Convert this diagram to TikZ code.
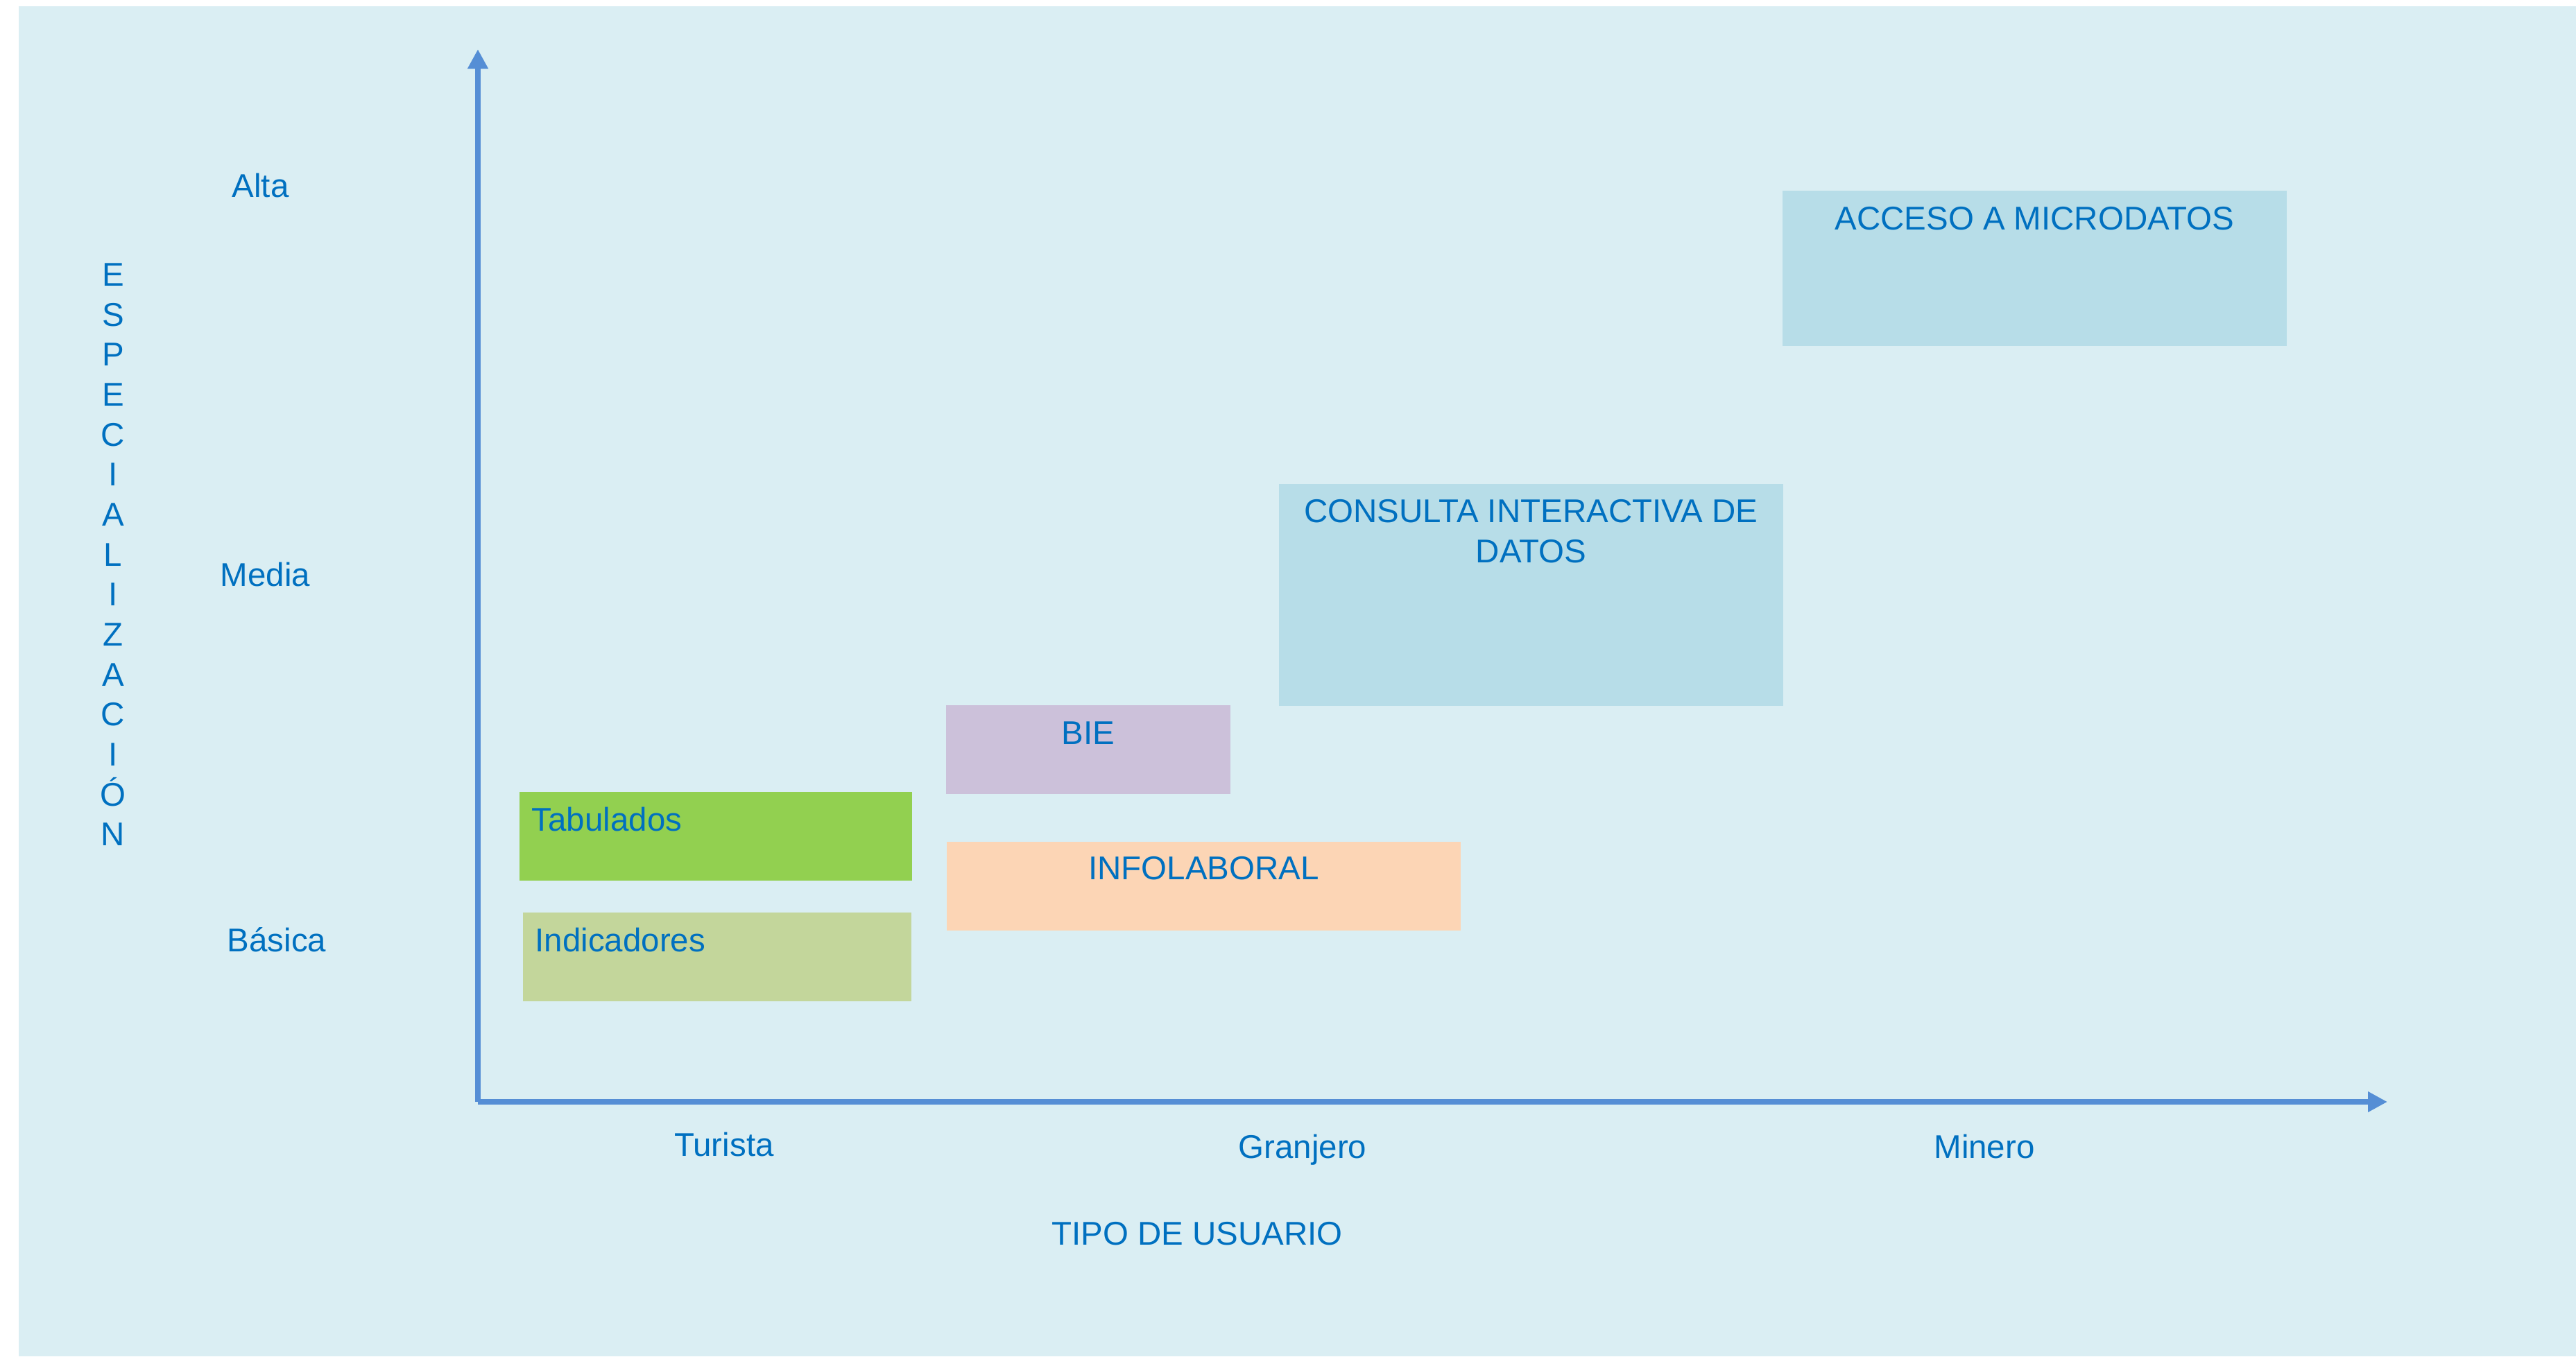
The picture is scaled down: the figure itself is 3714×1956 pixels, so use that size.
\documentclass[tikz,border=0pt]{standalone}
\usepackage{fontspec}
\setmainfont{Liberation Sans}
\usetikzlibrary{arrows.meta}

\definecolor{fondo}{HTML}{DAEEF3}
\definecolor{ejes}{HTML}{558ED5}
\definecolor{azul}{HTML}{0070C0}
\definecolor{verde}{HTML}{92D050}
\definecolor{olivo}{HTML}{C3D69B}
\definecolor{lila}{HTML}{CCC1DA}
\definecolor{durazno}{HTML}{FCD5B5}
\definecolor{celeste}{HTML}{B7DDE8}

\begin{document}
\begin{tikzpicture}[x=0.01cm, y=-0.01cm, >={Triangle[length=2.8mm, width=2.8mm]}]

\tikzstyle{bloque} = [rectangle, inner sep=0pt, anchor=north west, minimum height=1.28cm]
\tikzstyle{texto} = [inner sep=0pt, text=azul, font=\fontsize{13.5}{16.4}\selectfont]
\tikzstyle{eje} = [draw=ejes, line width=2.4pt]

\useasboundingbox (0,0) rectangle (3714,1956);
\fill[fondo] (27,9) rectangle (3714,1956);

% ejes
\coordinate (origen) at (689,1589);
\coordinate (ytope) at (689,71);
\coordinate (xfin) at (3442,1589);
\draw[eje, ->] (origen) -- (ytope);
\draw[eje, ->] (origen) -- (xfin);

% bloques
\node[bloque, fill=verde, minimum width=5.66cm] (tab) at (748,1141) {};
\node[bloque, fill=olivo, minimum width=5.60cm] (ind) at (753,1315) {};
\node[bloque, fill=lila, minimum width=4.10cm] (bie) at (1363,1016) {};
\node[bloque, fill=durazno, minimum width=7.41cm] (info) at (1364,1213) {};
\node[bloque, fill=celeste, minimum width=7.27cm, minimum height=3.20cm] (consulta) at (1843,697) {};
\node[bloque, fill=celeste, minimum width=7.27cm, minimum height=2.24cm] (acceso) at (2569,274) {};

\node[texto, anchor=base west] (tabtxt) at ([shift={(18,57)}]tab.north west) {Tabulados};
\node[texto, anchor=base west] (indtxt) at ([shift={(18,57)}]ind.north west) {Indicadores};
\node[texto, anchor=base] (bietxt) at ([shift={(0,57)}]bie.north) {BIE};
\node[texto, anchor=base] (infotxt) at ([shift={(0,55)}]info.north) {INFOLABORAL};
\node[texto, anchor=north, align=center] (consultatxt) at ([shift={(0,23)}]consulta.north) {CONSULTA INTERACTIVA DE\\DATOS};
\node[texto, anchor=base] (accesotxt) at ([shift={(0,57)}]acceso.north) {ACCESO A MICRODATOS};

% eje vertical
\node[texto, anchor=north, align=center] (especial) at (163,379) {E\\S\\P\\E\\C\\I\\A\\L\\I\\Z\\A\\C\\I\\Ó\\N};
\node[texto, anchor=base west] (alta) at (334,284) {Alta};
\node[texto, anchor=base west] (media) at (317,845) {Media};
\node[texto, anchor=base west] (basica) at (327,1372) {Básica};

% eje horizontal
\node[texto, anchor=base] (turista) at (1044,1667) {Turista};
\node[texto, anchor=base] (granjero) at (1878,1670) {Granjero};
\node[texto, anchor=base] (minero) at (2861,1670) {Minero};
\node[texto, anchor=base] (tipo) at (1726,1795) {TIPO DE USUARIO};

\end{tikzpicture}
\end{document}
